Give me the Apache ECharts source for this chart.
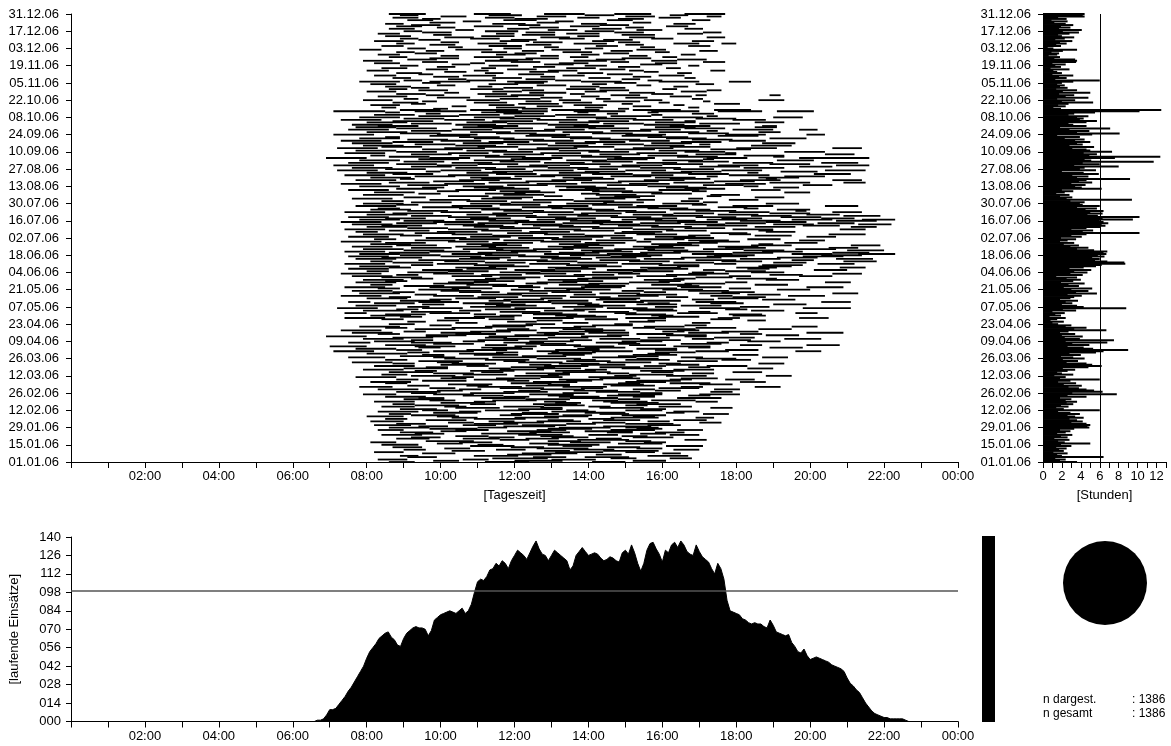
<!DOCTYPE html>
<html><head><meta charset="utf-8">
<script src="https://cdn.jsdelivr.net/npm/echarts@6/dist/echarts.min.js"></script>
<style>html,body{margin:0;padding:0;background:#fff}#c{width:1171px;height:746px}</style>
</head><body><div id="c"></div>
<script>
// ---------------- data ----------------
const dateTickLabels = ['01.01.06','15.01.06','29.01.06','12.02.06','26.02.06','12.03.06','26.03.06','09.04.06','23.04.06','07.05.06','21.05.06','04.06.06','18.06.06','02.07.06','16.07.06','30.07.06','13.08.06','27.08.06','10.09.06','24.09.06','08.10.06','22.10.06','05.11.06','19.11.06','03.12.06','17.12.06','31.12.06'];
const monthLengths = [31,28,31,30,31,30,31,31,30,31,30,31];

// each entry = one day, "start-end" in hours of day
const segJan = ["8.6-9.3 11.2-12.4 14.1-15.0","9.8-10.5 12.0-13.3 15.2-16.1","8.3-9.1 10.6-11.3 13.0-14.2","11.4-12.9 14.6-15.3 16.2-16.8","9.1-9.9 12.5-13.4 13.9-15.1","8.9-9.4 10.9-12.1 15.6-16.7","11.8-13.0 14.2-14.9","9.5-10.4 12.2-13.7 16.0-16.5","8.2-9.0 13.1-14.4 15.0-15.8","10.3-11.2 12.8-13.5 14.4-15.9","9.0-9.6 11.5-12.3 13.6-14.7 16.3-17.0","10.1-10.8 12.6-14.0 15.3-16.0","8.7-9.5 11.9-12.8 14.5-15.4","10.8-12.0 13.3-14.1 16.1-17.1","8.4-9.4 11.0-11.7 12.9-14.3","9.9-10.6 12.4-13.2 14.8-16.0","8.1-8.8 10.5-11.4 13.5-14.6 15.5-16.1","9.6-10.9 12.9-13.8 15.0-15.7","11.6-12.4 13.7-15.1 16.6-17.2","8.8-9.7 10.6-11.6 12.3-13.2 14.2-14.9","9.2-10.0 11.3-12.0 13.0-14.0 15.2-16.3","10.4-11.3 12.7-13.6 14.9-15.6","8.4-9.5 12.1-13.3 14.0-14.8 16.2-17.0","9.3-10.1 11.1-12.6 15.4-16.1","8.9-9.8 12.4-13.5 14.5-15.2 15.8-16.6","10.0-10.7 11.8-13.0 13.9-15.2","8.3-9.0 10.4-11.3 12.6-13.4 14.6-15.8 16.4-17.1","9.7-11.0 12.9-14.1 15.3-16.0","8.6-9.7 11.0-11.8 13.2-14.6 15.0-15.9","9.4-10.2 11.7-13.1 14.4-15.7","8.2-9.2 10.6-11.5 12.2-13.4 15.6-16.5"];
const segFeb = ["8.8-9.6 10.9-12.1 13.4-14.2 15.0-16.3","10.2-10.9 11.7-12.8 14.1-15.0 17.0-17.6","8.1-9.0 11.3-12.0 12.6-13.8 15.6-16.2","9.6-10.7 12.9-13.6 14.4-15.4 16.3-17.2","8.5-9.1 10.9-12.3 14.0-14.7","10.3-11.0 12.0-13.2 14.6-15.9 16.9-17.4","8.0-9.0 9.9-10.5 12.8-14.0 15.2-15.8","9.2-10.4 11.6-12.2 13.3-14.1 14.9-16.1","8.6-9.2 11.9-13.2 14.3-15.1 17.1-17.8","9.8-11.0 12.2-12.9 13.9-15.0 16.1-16.6","8.3-9.4 10.5-11.1 13.0-14.2 16.3-17.0","9.5-10.2 11.2-12.4 13.4-14.0 15.0-16.0","8.9-9.9 12.1-13.3 15.4-16.1","10.4-11.6 12.7-13.3 14.3-15.5 17.3-17.9","8.4-9.3 10.1-10.7 11.7-12.8 14.0-14.6 15.9-16.8","9.3-10.5 12.8-13.9 15.0-15.6","8.7-9.3 10.8-11.5 12.5-13.7 15.3-16.5","10.0-11.2 13.1-13.8 14.6-15.9","8.2-9.3 10.9-11.5 12.8-13.4 14.4-15.6 16.9-17.5","9.7-10.4 11.4-12.6 14.1-14.8 15.7-16.9","9.0-10.1 12.3-13.5 14.8-15.4","9.4-10.1 11.1-12.3 13.5-14.8 16.4-17.6","8.5-9.6 11.7-12.4 13.2-14.3 15.2-15.8","10.6-11.7 12.9-13.6 14.5-15.8 16.7-17.3","7.9-8.8 9.8-10.9 12.4-13.6 14.8-16.0 17.0-18.1","9.2-9.9 10.8-12.0 13.3-14.0 15.4-16.0","8.8-10.0 11.7-12.9 14.2-15.4 17.3-17.9","9.9-10.6 12.1-12.7 13.6-14.8 15.8-16.5"];
const segMar = ["8.3-9.4 10.5-11.1 12.7-13.9 15.2-15.8 17.4-18.1","9.7-10.4 11.6-12.8 13.8-14.4 15.9-17.0","7.8-8.7 11.0-12.2 13.3-14.5 16.5-17.1 18.5-19.2","9.1-9.7 10.7-11.3 12.3-13.5 14.6-15.8","10.2-11.4 12.9-13.5 14.4-15.5 17.0-17.9","8.5-9.1 11.9-13.0 14.8-15.4 16.2-17.3","8.1-9.2 12.5-13.7 15.0-16.1 18.1-18.8","9.5-10.7 11.8-12.4 13.4-14.1 15.3-16.5","8.8-9.4 10.9-12.0 13.2-14.4 16.2-16.8 17.7-18.5","10.0-10.7 11.5-12.7 14.3-15.4 16.5-17.5","7.7-8.8 10.3-10.9 12.7-13.3 14.0-15.2","9.2-10.4 12.0-13.2 14.7-15.3 16.1-17.2 18.8-19.5","8.4-9.1 10.6-11.8 12.9-13.5 15.1-16.3","9.8-10.9 12.3-13.5 14.5-15.1 16.8-17.4","8.6-9.8 11.1-11.7 13.3-14.6 15.7-16.3 17.9-18.7","9.3-9.9 10.8-12.0 13.1-14.2 15.4-16.6","7.9-9.0 11.6-12.8 13.9-14.5 16.3-17.4","9.0-10.2 11.3-11.9 12.6-13.8 14.9-16.0 18.3-19.0","9.6-10.2 11.9-13.1 14.3-15.4 16.7-17.3","8.2-9.3 10.7-11.3 12.8-14.0 15.5-16.1 17.2-18.3","10.0-11.2 12.4-13.0 13.8-15.0 16.1-17.0","8.7-9.3 10.3-11.5 13.2-14.3 15.9-16.5 18.6-19.3","7.6-8.7 9.9-10.5 12.1-13.3 14.5-15.7","9.4-10.6 11.7-12.3 13.4-14.6 16.4-17.5","8.5-9.1 11.2-12.4 13.6-14.2 15.0-16.2 17.6-18.4","10.1-11.3 12.6-13.8 15.3-15.9 16.9-18.0","7.5-8.5 9.8-10.4 11.4-12.6 14.1-15.3 16.5-17.1 18.7-19.4","8.9-10.1 12.2-13.4 14.8-15.9","9.5-10.1 10.9-12.1 13.3-13.9 15.2-16.4 17.9-18.6","8.0-9.1 10.5-11.7 12.9-14.1 15.6-16.2","9.1-9.7 11.5-12.1 13.0-14.2 15.8-16.9"];
const segApr = ["7.1-8.2 9.8-10.9 12.6-13.2 14.1-15.2 16.9-17.8 19.6-20.3","8.8-9.5 10.7-11.8 13.1-14.3 15.8-16.4 17.7-18.6","7.7-8.8 11.4-12.5 13.7-14.3 15.3-16.4","9.4-10.0 11.1-12.2 13.9-15.0 16.7-17.3 18.9-19.8","7.0-8.0 9.3-10.4 12.0-12.6 13.6-14.7 16.3-17.3","8.5-9.6 11.2-11.8 12.7-13.8 15.1-16.1 18.1-18.7 19.9-20.8","9.8-10.9 12.3-13.4 14.8-15.4 16.5-17.6","7.5-8.1 9.2-10.3 11.7-12.8 14.2-15.3 17.2-17.8","8.2-9.3 10.6-11.2 12.4-13.6 14.9-16.0 18.3-19.2","9.2-9.8 11.0-12.1 13.5-14.1 15.4-16.5 17.8-18.4","7.9-9.0 11.7-12.9 14.3-15.4 16.8-17.4 19.3-20.3","8.7-9.8 11.2-11.8 12.9-14.0 15.6-16.2 17.4-18.5","6.9-8.0 9.6-10.2 11.3-12.4 13.8-14.9 16.6-17.2","9.6-10.7 12.0-13.1 14.5-15.1 16.1-17.2 18.8-19.7","8.3-8.9 10.4-11.5 12.8-13.9 15.3-16.3 18.1-18.7","7.6-8.7 10.0-11.1 12.6-13.2 14.0-15.1 16.7-17.8 19.9-20.9","9.0-9.6 10.8-11.9 13.2-14.4 16.0-16.6 17.6-18.6","7.3-8.4 11.5-12.6 13.9-15.0 16.4-17.0","9.3-10.4 11.8-12.4 13.3-14.4 15.8-16.9 18.6-19.5","8.5-9.1 10.3-11.4 12.7-13.8 15.2-15.8 16.9-18.0","7.8-8.9 11.2-12.3 13.6-14.2 15.5-16.6 19.5-20.2","9.7-10.3 11.4-12.5 14.1-15.2 16.6-17.2","8.6-9.3 12.3-13.1 14.7-15.2","10.4-11.0 13.3-14.0 16.8-17.3","9.1-9.6 11.8-12.6 15.1-15.8","9.9-10.5 12.6-13.3 15.6-16.1 18.3-18.8","8.4-9.0 11.3-12.0 13.9-14.8 17.3-17.9","7.4-8.5 10.1-11.2 12.5-13.6 15.0-16.1 17.5-18.1 19.7-20.5","8.9-9.5 10.9-12.0 13.4-14.5 15.9-17.0","8.1-9.2 11.6-12.2 13.1-14.2 15.7-16.3 17.9-18.8"];
const segMay = ["8.5-9.6 10.9-11.5 12.5-13.7 15.0-16.1 17.8-18.7","7.4-8.0 9.7-10.8 12.2-13.3 14.7-15.3 16.4-17.5 19.6-20.2","9.2-10.3 11.6-12.7 14.0-15.1 16.7-17.3","7.9-9.0 10.5-11.1 12.8-13.9 15.3-16.4 18.4-19.3","8.8-9.4 11.2-12.3 13.6-14.2 15.2-16.3 17.7-18.3","7.2-8.3 9.5-10.6 12.0-13.1 14.5-15.6 17.0-18.1 19.8-21.1","9.1-9.7 10.8-11.9 13.3-14.4 15.8-16.4 18.1-18.9","7.7-8.8 11.5-12.6 13.9-15.0 16.5-17.6","9.5-10.1 11.2-12.3 13.7-14.3 15.3-16.4 19.0-19.9","8.2-9.3 10.6-11.7 13.0-14.1 15.6-16.2 17.3-18.2","7.5-8.1 9.4-10.5 11.9-13.0 14.4-15.5 16.9-18.0 20.3-21.1","8.9-10.0 11.3-11.9 12.9-14.0 15.4-16.5","9.7-10.3 11.7-12.8 14.2-15.3 16.8-17.4 18.7-19.6","8.0-9.1 10.4-11.5 12.7-13.3 14.3-15.4 17.5-18.6","8.6-9.2 11.0-12.1 13.5-14.6 16.1-16.7 17.9-18.8","7.3-8.4 9.8-10.9 12.2-13.4 14.8-15.9 17.3-17.9 19.4-20.4","9.3-9.9 11.1-12.2 13.6-14.2 15.3-16.4 18.3-19.2","7.8-8.9 11.8-12.9 14.3-15.4 17.0-18.1 20.6-21.3","8.7-9.3 10.5-11.6 13.0-14.1 15.5-16.1 17.6-18.5","7.6-8.7 10.0-11.1 12.4-13.5 14.9-15.5 16.7-17.8","9.4-10.5 11.9-12.5 13.4-14.6 16.0-17.1 19.1-20.0","8.3-8.9 10.3-11.4 12.8-13.9 15.3-16.4 17.8-18.4","7.4-8.5 9.7-10.8 12.1-12.7 13.8-14.9 16.5-17.6 19.9-20.9","9.0-10.1 11.4-12.5 13.9-15.0 16.4-17.0","8.1-8.7 10.7-11.8 13.2-14.3 15.7-16.8 18.5-19.4","9.8-10.9 12.3-12.9 14.0-15.1 16.6-17.7","7.7-8.8 10.2-11.3 12.6-13.7 15.1-16.2 17.7-18.3 20.4-21.1","8.5-9.1 10.9-12.0 13.3-14.4 15.9-16.5","7.9-9.0 10.4-11.5 12.9-14.0 15.5-16.6 18.8-19.7","9.2-9.8 11.2-12.3 13.7-14.8 16.3-16.9 18.0-19.1","8.4-9.5 11.6-12.7 14.1-15.2 16.9-17.9"];
const segJun = ["7.6-8.7 10.3-11.4 12.8-13.9 15.3-16.4 17.8-18.4 19.7-20.6","8.8-9.4 11.1-12.2 13.6-14.7 16.1-17.2 18.9-19.8","7.3-8.4 9.8-10.9 12.3-13.4 14.8-15.4 16.7-17.8 20.6-21.4","9.1-10.2 11.6-12.7 14.1-15.2 16.8-17.4 18.4-19.3","8.0-8.6 10.2-11.3 12.7-13.8 15.2-16.3 17.7-18.8","9.5-10.6 12.0-13.1 14.5-15.6 17.1-17.7 20.1-21.0","7.5-8.6 10.7-11.8 13.1-14.2 15.6-16.7 18.3-18.9","8.6-9.2 10.4-11.5 12.9-14.0 15.4-16.5 18.0-19.1 20.8-21.5","7.8-8.9 11.3-12.4 13.8-14.9 16.4-17.0 18.6-19.5","9.2-9.8 10.9-12.0 13.4-14.5 15.9-17.0 18.7-19.8","7.4-8.5 9.9-11.0 12.4-13.5 14.9-16.0 17.4-18.0 20.2-21.2","8.7-9.8 11.2-12.3 13.7-14.8 16.3-17.4 19.0-19.9","8.1-8.7 10.1-11.2 12.6-13.7 15.1-16.2 17.6-18.7 20.9-21.8","9.4-10.5 11.8-12.9 14.3-15.4 16.9-18.0 19.5-20.1","7.7-8.8 10.5-11.6 13.0-14.1 15.5-16.6 18.1-19.2 20.7-21.7","8.4-9.5 10.8-11.9 12.7-13.8 14.2-15.3 16.5-17.6 19.1-20.2","7.5-8.6 10.0-11.1 12.1-13.2 14.6-15.7 17.2-18.3 19.8-20.9","8.9-10.0 11.2-12.3 13.5-14.6 14.9-16.0 17.4-18.5 20.3-21.4","7.8-8.9 10.3-11.4 12.8-13.9 14.5-15.6 16.8-17.9 19.5-20.6 21.3-22.3","8.6-9.7 11.0-12.1 13.2-14.3 15.4-16.5 17.9-19.0 20.6-21.6","7.4-8.5 9.7-10.8 11.9-13.0 14.1-15.2 16.3-17.4 18.7-19.8","9.0-10.1 11.5-12.6 13.8-14.9 15.6-16.7 18.2-19.3 21.0-22.0","7.9-9.0 10.6-11.7 12.5-13.6 14.7-15.8 17.1-18.2 19.6-20.7","9.2-10.3 11.3-12.4 13.3-14.4 15.5-16.6 17.7-18.8 20.5-21.3","7.6-8.7 10.4-11.5 12.9-14.0 15.2-16.3 17.5-18.6","8.8-9.9 11.1-12.2 13.6-14.7 15.9-17.0 18.4-19.5 21.1-21.9","8.1-9.2 10.7-11.8 13.2-14.3 15.7-16.8 18.6-19.0","8.5-9.6 11.4-12.5 13.9-15.0 16.4-17.5 19.3-20.2","7.3-8.4 10.2-11.3 12.7-13.8 15.3-15.7 17.0-18.1","9.3-10.4 11.7-12.8 14.2-15.3 16.7-17.8 19.7-20.4"];
const segJul = ["8.2-8.8 10.5-11.6 13.0-14.1 15.5-16.6 18.3-19.2","9.6-10.7 12.1-13.2 14.6-15.2 16.3-17.4","7.5-8.6 10.8-11.9 13.3-14.4 15.8-16.9 19.9-20.7","8.9-9.5 11.4-12.5 13.9-15.0 16.7-17.3 18.5-19.5","7.9-9.0 10.3-11.4 12.8-13.9 15.3-16.4 17.8-18.4 20.5-21.5","9.3-10.4 11.8-12.9 14.7-15.8 17.3-18.3","7.7-8.3 9.9-11.0 12.4-13.5 14.9-16.0 18.8-19.6","8.6-9.7 11.1-12.2 13.6-14.7 16.1-17.2 18.6-19.0","7.4-8.5 10.2-11.3 12.7-13.8 15.2-16.3 17.9-19.0 20.8-21.5","9.1-10.2 11.6-12.7 14.1-15.2 16.6-17.7","8.0-9.1 10.9-12.0 13.2-14.3 15.7-16.8 18.5-19.6 21.1-21.8","8.4-9.5 10.6-11.7 12.5-13.6 14.8-15.9 17.2-18.3 19.8-20.8","7.6-8.7 10.1-11.2 12.2-13.3 14.3-15.4 16.6-17.7 19.0-20.1 21.3-22.2","8.8-9.9 11.0-12.1 13.3-14.4 15.4-16.5 17.7-18.8 20.2-21.2","7.3-8.4 9.8-10.9 12.0-13.1 14.1-15.2 16.4-17.5 18.8-19.9","9.0-10.1 11.3-12.4 13.5-14.6 15.8-16.9 18.1-19.2 20.7-21.8","7.8-8.9 10.4-11.5 12.6-13.7 14.9-16.0 17.2-18.3 19.5-20.6 21.4-22.3","8.5-9.6 10.8-11.9 13.1-14.2 15.3-16.4 17.6-18.7 20.3-21.2","7.5-8.6 10.2-11.3 12.3-13.4 14.6-15.7 16.9-18.0 19.2-20.3","9.2-10.3 11.5-12.6 13.7-14.8 16.0-17.1 18.4-19.5 20.9-21.9","8.0-9.1 10.7-11.8 12.9-14.0 15.2-16.3 17.5-18.6 19.9-20.8","8.7-9.8 11.4-12.5 13.8-14.9 16.3-17.4 18.9-20.0","7.4-8.5 10.0-11.1 12.5-13.6 15.0-16.1 17.8-18.9 20.6-21.4","9.1-10.2 11.7-12.8 14.2-15.3 16.9-18.0 19.6-19.9","8.1-9.2 11.1-12.2 13.6-14.7 16.2-17.3 19.1-20.0","8.3-8.9 10.5-11.6 13.0-14.1 15.6-16.7 18.2-18.6","9.5-10.6 12.2-13.3 14.8-15.9 17.5-18.3","7.7-8.8 10.3-11.4 12.9-14.0 15.3-16.4 17.9-19.0 20.4-21.3","8.8-9.4 11.6-12.7 14.1-15.2 16.8-17.2","7.9-9.0 10.8-11.9 13.4-14.5 16.0-17.1 18.8-19.7","9.2-10.3 11.9-13.0 14.4-15.5 17.1-17.5"];
const segAug = ["8.4-9.0 10.7-11.8 13.6-14.7 16.5-17.0","9.7-10.8 12.5-13.6 15.3-15.8 17.8-18.6","7.6-8.7 11.1-12.2 13.9-15.0 16.7-17.1","9.0-9.6 11.4-12.5 14.3-15.4 18.5-19.3","10.2-11.3 12.8-13.3 14.7-15.8 17.2-17.6","7.9-9.0 11.7-12.8 14.2-15.3 17.3-18.1","9.4-10.0 11.2-12.3 13.8-14.3 15.7-16.8","8.2-9.3 12.0-13.1 14.9-16.0 19.3-20.0","9.9-10.5 11.6-12.7 14.1-15.2 16.8-17.2","7.5-8.6 10.4-11.5 13.2-14.3 15.9-17.0 18.4-19.2","8.8-9.9 11.3-12.4 13.9-15.0 16.6-17.7","9.5-10.1 10.9-12.0 13.4-14.5 16.1-17.2 19.0-19.7","7.8-8.9 10.6-11.7 13.1-14.2 15.6-16.7 18.2-18.6","9.1-10.2 11.8-12.9 14.5-15.6 17.1-18.2 19.8-20.6","7.3-8.4 10.1-11.2 12.6-13.7 15.1-16.2 17.7-18.8","8.6-9.7 11.3-12.4 13.8-14.9 16.3-17.4 18.9-20.0 20.9-21.5","9.8-10.9 12.3-13.4 14.8-15.9 17.4-18.5","7.7-8.8 10.5-11.6 13.0-14.1 15.5-16.6 18.1-19.2 20.6-21.4","8.9-9.3 11.1-12.2 13.6-14.7 16.2-17.3 18.8-19.1","8.1-9.2 10.8-11.9 13.3-14.4 15.8-16.9 18.6-19.7","9.3-10.4 12.0-13.1 14.6-15.7 17.2-17.5 19.3-20.4","7.4-8.5 10.2-11.3 12.7-13.8 15.2-16.3 17.8-18.9","8.7-9.8 11.5-12.6 14.1-15.2 16.7-17.8 20.1-21.1","8.0-9.1 10.7-11.8 13.2-14.3 15.7-16.8 18.3-18.6","9.6-10.0 11.4-12.5 13.9-15.0 16.5-17.6 19.2-20.2","7.2-8.3 10.0-11.1 12.5-13.6 15.0-16.1 17.6-18.7 20.4-21.5","8.5-9.6 11.2-12.3 13.7-14.8 16.3-17.4","7.6-8.7 10.4-11.5 12.9-14.0 15.4-16.5 18.2-19.3","9.2-10.3 11.8-12.9 14.3-15.4 17.0-18.1 19.7-20.6","7.1-8.2 9.9-11.0 12.4-13.5 14.9-16.0 17.5-18.6 20.7-21.6","8.8-9.9 11.0-12.1 13.5-14.6 16.0-17.1 18.9-20.0"];
const segSep = ["7.5-8.6 10.3-11.4 12.8-13.9 15.3-16.4 17.9-19.0 20.3-21.3","9.0-10.1 11.6-12.7 14.1-15.2 16.7-17.8","7.8-8.9 10.9-12.0 13.4-14.5 16.0-17.1 19.1-20.1","9.4-10.5 11.9-13.0 14.5-15.6 17.1-17.4","6.9-8.0 9.7-10.8 12.2-13.3 14.7-15.8 17.2-18.3 19.7-20.8 20.5-21.6","8.6-9.7 11.2-12.3 13.8-14.9 16.4-17.5 19.0-19.3","8.1-8.5 10.5-11.6 13.0-14.1 15.6-16.7 18.2-19.3","9.2-10.3 11.7-12.8 14.3-15.4 16.9-18.0 20.4-21.2","7.4-8.5 10.2-11.3 12.7-13.8 15.3-16.4 17.7-18.0","8.8-9.9 11.4-12.5 14.0-15.1 16.6-17.7 19.3-20.4","7.7-8.8 10.7-11.8 13.2-14.3 15.9-17.0","9.5-10.6 12.1-13.2 14.7-15.8 17.3-18.4","7.2-8.3 10.1-11.2 12.6-13.7 15.2-16.3 18.0-19.1 20.6-21.4","8.4-9.5 11.0-12.1 13.6-14.7 16.2-17.3","7.9-9.0 10.4-11.5 12.9-14.0 15.5-16.6 18.4-19.5","9.3-10.4 11.8-12.9 14.4-15.5 17.0-17.3","7.6-8.7 10.6-11.7 13.1-14.2 15.7-16.8 18.7-19.6","8.7-9.8 11.3-12.4 13.9-15.0 16.5-17.6","7.3-8.4 10.0-11.1 12.5-13.6 15.1-16.2 17.8-18.8","9.1-10.2 11.7-12.8 14.3-15.4 16.8-17.9","7.8-8.9 10.9-12.0 13.5-14.6 16.1-17.2 18.9-19.9","8.5-8.9 10.5-11.6 13.0-14.1 15.6-16.7","9.7-10.8 12.3-13.4 14.9-16.0 17.5-18.6","7.1-8.2 9.9-11.0 12.4-13.5 15.0-16.1 17.7-18.8 19.9-20.4","8.9-10.0 11.5-12.6 14.1-15.2 16.7-17.8","8.0-9.1 10.8-11.9 13.3-14.4 15.9-17.0 18.6-19.2","9.2-10.3 12.0-13.1 14.6-15.7 17.2-17.5","7.5-8.6 10.3-11.4 12.8-13.9 15.4-16.5 17.9-19.0 19.7-20.2","8.8-9.9 11.4-12.5 14.0-15.1 16.6-17.7","7.7-8.8 10.6-11.7 13.1-14.2 15.8-16.9 18.5-19.1"];
const segOct = ["8.3-9.4 11.0-12.1 13.6-14.7 16.2-17.3 18.7-19.1","7.6-8.7 10.4-11.5 12.9-14.0 15.5-16.6","9.2-10.3 11.8-12.9 14.4-15.5 17.0-18.1","8.0-9.1 10.7-11.8 13.2-14.3 15.8-16.9 18.5-19.3","8.7-9.8 11.4-12.5 14.0-15.1 16.6-16.9","7.3-8.4 10.1-11.2 12.6-13.7 15.2-16.3 17.9-18.8","9.0-10.1 11.6-12.7 14.2-15.3 16.9-18.0","7.8-8.9 10.9-12.0 13.4-14.5 16.0-17.1 19.0-19.8","9.4-10.5 12.0-13.1 14.6-15.7 17.2-17.5","8.2-9.3 10.5-11.6 13.1-14.2 15.7-16.0","9.6-10.0 11.7-12.8 14.5-14.8 16.8-17.4","8.5-8.9 11.1-12.2 13.7-14.0 15.6-15.9","7.1-8.5 9.3-10.7 11.5-12.9 13.6-15.0 15.7-17.0 17.5-18.7 19.1-20.1","8.9-10.0 10.8-12.1 13.0-14.3 15.2-16.5 17.4-18.4","9.8-10.2 12.2-12.9 14.8-15.1","8.4-8.8 11.5-12.3 13.9-14.4 16.7-17.0","10.3-10.7 12.6-13.3 15.2-15.7","8.1-8.9 11.3-12.0 13.6-14.5 16.3-16.6","9.2-9.6 12.1-13.2 14.9-15.2 17.4-18.1","8.7-9.4 10.9-11.8 13.3-14.1 15.9-16.2","9.5-9.9 12.3-13.0 14.4-15.4 17.1-17.3","7.9-8.7 10.7-11.6 13.2-13.8 15.5-16.0 18.6-19.3","9.0-9.4 11.6-12.7 14.2-14.6 16.8-17.1","9.9-10.8 12.7-13.3 15.0-15.6","8.3-9.1 11.2-12.1 13.8-14.3 16.2-16.8","9.6-10.1 11.9-12.8 14.6-15.4 16.9-17.2 18.9-19.2","8.8-9.6 11.0-11.8 13.5-13.9 15.7-16.3","10.1-10.5 12.4-13.4 15.1-15.8","8.0-8.8 11.4-12.2 13.9-14.5 16.5-17.2","9.4-10.2 12.2-12.8 14.3-15.1 17.2-17.6","8.6-9.1 10.8-11.7 13.4-14.2 16.0-16.4"];
const segNov = ["9.2-9.7 11.7-12.5 14.3-15.0","8.5-9.2 11.0-11.4 13.5-14.3 16.3-16.7","9.9-10.4 12.6-13.4 15.3-15.7","8.1-8.8 11.3-12.1 14.1-14.5 16.9-17.4","9.5-10.0 12.0-12.8 14.7-15.3","7.8-8.9 9.7-10.8 11.8-12.9 13.8-14.9 15.9-17.0 17.8-18.4","9.0-9.5 10.7-11.5 13.1-13.8 15.6-16.0","10.2-10.7 12.3-13.1 14.9-15.4","8.7-9.2 11.4-12.2 14.0-14.6 16.6-16.9","9.8-10.5 12.7-13.1 15.2-15.7","8.2-8.8 10.6-11.5 13.3-13.9 15.9-16.6","9.4-9.8 12.1-12.8 14.5-15.2","8.8-9.5 11.2-11.7 13.7-14.4 16.4-16.8","10.1-10.7 12.4-13.2 15.5-15.9","8.0-8.6 10.9-11.3 12.9-13.7 15.1-15.5 17.3-17.7","9.6-10.2 11.8-12.6 14.3-15.0","8.4-9.1 11.1-11.5 13.4-14.2 16.1-16.5","9.9-10.4 12.5-13.1 14.8-15.4","8.9-9.4 11.3-12.1 13.9-14.5 16.7-17.0","10.3-10.8 12.8-13.6 15.4-16.0","8.2-8.9 10.8-11.2 13.2-14.0 15.8-16.4","9.5-10.2 11.9-12.7 14.6-15.1 17.1-17.7","7.9-8.7 11.2-12.1 13.6-14.5 15.7-16.4","9.1-9.9 11.6-12.5 14.2-15.0 16.4-17.2","9.7-10.5 12.3-13.2 14.9-15.7","8.6-9.1 10.9-11.7 13.5-14.0 16.0-16.4","10.0-10.5 12.7-13.2 15.1-15.6","8.3-8.9 11.5-12.3 13.8-14.3 16.5-16.9","9.3-9.9 12.0-12.6 14.4-15.1","8.8-9.3 11.1-11.8 13.3-14.1 15.8-16.2"];
const segDec = ["9.6-10.1 12.2-12.8 14.6-15.2 17.0-17.5","7.8-8.4 10.4-11.4 13.0-13.8 15.3-16.1","9.1-9.6 11.7-12.2 13.9-14.4","10.2-10.6 12.8-13.2 15.4-15.8","8.4-9.0 11.3-12.2 14.2-14.8 16.7-17.3","9.7-10.4 12.3-13.0 15.0-15.5","8.8-9.3 11.0-11.8 13.6-14.5 16.3-17.0 17.6-18.0","10.0-10.5 12.5-13.3 14.8-15.4","8.2-9.0 11.6-12.4 14.1-14.7 16.8-17.4","9.4-10.0 11.9-12.6 14.4-15.2","8.9-9.4 10.8-11.6 13.2-13.9 15.7-16.3","10.1-10.9 12.7-13.5 15.1-15.8 17.2-17.7","8.5-9.2 11.1-12.0 13.7-14.3","9.8-10.3 12.2-13.1 14.9-15.8","8.3-8.9 11.5-12.0 13.4-14.3 16.4-17.1","9.5-10.3 12.3-13.1 14.7-15.5 17.1-17.6","9.0-9.5 11.2-12.1 13.9-14.7","10.4-10.9 12.9-13.7 15.3-16.0","8.6-9.3 11.8-12.4 14.1-14.9 16.6-17.1","9.9-10.4 12.4-13.2 15.0-15.5","8.8-9.5 10.9-11.7 13.5-14.3 16.1-16.7","9.2-10.0 12.1-12.7 14.3-15.1","8.5-9.0 11.4-12.3 13.8-14.5 16.3-16.9","9.7-10.4 12.6-13.2 15.2-15.7","10.6-11.1 13.1-13.6","9.1-9.8 11.7-12.6 14.5-15.2 16.8-17.3","9.5-10.0 12.0-12.9 14.8-15.5","8.7-9.4 11.2-12.0 13.7-14.3 15.9-16.5","10.0-10.7 12.6-13.4 15.0-15.8 17.2-17.6","8.9-9.4 11.3-12.2 13.9-14.7 16.2-16.7","8.6-9.6 10.9-11.9 12.8-13.9 14.7-15.7 16.6-17.7"];

// hours of operation per day (right panel), 01.01 .. 31.12
const dailyHours = [
3.6,1.8,2.4,1.3,6.4,2.0,1.5,2.6,1.1,2.2, 1.7,2.5,1.4,3.0,1.9,5.0,2.3,1.6,2.8,1.2,
2.6,1.9,3.1,1.5,2.4,2.9,1.8,3.3,4.9,4.7, 5.0,4.6,3.0,4.2,3.6,2.8,4.3,3.4,2.6,3.9,
2.9,1.6,6.0,2.2,1.4,2.7,1.9,3.2,2.5,3.6, 2.4,3.0,1.8,4.6,2.6,7.8,3.1,6.3,5.4,4.6,
3.8,2.7,4.1,2.2,3.5,1.6,2.9,6.0,1.8,2.4, 1.2,3.2,2.0,1.5,2.6,3.4,2.1,4.8,6.2,5.2,
4.6,2.5,3.7,2.1,4.4,3.2,1.9,4.0,2.8,5.6, 6.4,9.0,5.3,4.3,2.6,4.9,3.1,6.8,2.4,7.5,
3.9,2.3,4.2,2.0,3.4,1.8,2.7,6.7,3.3,4.6, 2.4,3.0,1.6,1.0,2.2,0.8,1.5,2.4,0.7,1.9,
1.3,2.3,1.0,3.5,2.1,8.8,4.3,3.6,2.0,3.1, 2.4,3.7,1.8,2.9,3.3,4.1,2.6,5.7,3.5,4.8,
3.0,5.2,2.2,3.8,2.7,4.4,1.9,3.2,4.0,2.5, 3.6,1.4,4.2,2.9,4.7,3.3,5.1,2.8,4.3,5.6,
6.2,8.7,8.6,6.8,5.5,6.0,5.2,6.5,5.8,6.7, 6.4,6.8,5.4,3.6,4.8,2.9,3.8,2.2,3.3,1.8,
2.6,3.5,1.9,4.1,3.0,4.6,10.2,4.2,5.3,3.0, 4.6,6.1,6.6,6.2,6.9,6.4,6.0,9.5,6.3,10.2,
5.8,4.7,6.3,5.0,6.4,4.5,5.7,3.6,6.0,4.2, 3.9,4.4,2.9,9.4,2.5,3.1,1.8,2.8,1.4,2.3,
3.2,2.0,6.2,4.1,3.4,4.5,3.0,5.2,3.8,4.6, 9.2,3.6,4.8,3.1,5.9,4.3,2.0,5.6,3.9,4.4,
8.0,3.3,6.0,4.2,11.7,5.1,4.4,7.6,12.4,4.9, 5.7,4.3,7.3,5.0,4.6,3.1,5.4,2.8,4.2,3.6,
5.0,3.4,4.4,2.3,3.9,1.5,5.2,8.1,3.6,4.9, 2.8,7.1,1.8,4.6,3.2,2.7,4.6,5.7,3.9,4.3,
3.6,4.8,2.7,3.3,5.5,10.2,12.5,1.9,1.1,2.4, 1.6,2.7,5.3,2.0,3.4,1.5,4.8,2.4,3.3,1.7,
5.0,2.1,3.6,1.4,2.6,1.8,2.3,1.5,2.0,3.2, 6.0,1.3,2.5,1.7,3.2,1.0,2.0,1.5,1.1,2.8,
0.8,1.9,1.3,2.4,1.0,3.5,3.6,3.4,1.2,1.8, 0.6,1.5,1.7,0.9,2.1,3.6,1.1,0.5,1.9,1.4,
2.5,1.8,3.1,1.3,2.3,3.3,2.0,1.6,2.8,3.8, 2.1,4.1,1.7,2.9,1.9,3.2,2.4,1.2,2.6,0.9,
2.5,1.6,4.4,4.2,4.4];

// running operations by time of day (bottom panel), every 5 minutes from 06:30
const profileStartHour = 6.5;
const profileStepMinutes = 5;
const profileCounts = [
0,0,1,1,2,5,9,9,10,13,16,19,23,26,30,34,38,42,
48,53,56,59,63,65,67,68,64,62,58,57,
63,67,69,71,72,71,71,70,65,69,77,79,
81,82,83,84,83,82,84,86,82,84,89,98,
106,108,107,110,115,116,120,118,122,120,116,122,
126,130,128,126,123,128,133,137,131,127,126,122,
126,130,128,126,124,122,115,118,126,129,132,129,
126,127,128,127,124,122,123,125,124,122,121,128,
130,127,134,128,120,114,120,130,135,136,131,127,
121,130,128,134,136,132,137,134,129,127,126,134,
129,125,123,121,116,112,120,116,108,92,84,83,
82,81,78,77,75,74,75,74,74,72,71,77,
73,68,67,66,65,66,60,57,53,52,55,50,
47,48,49,48,47,46,45,43,42,41,40,38,
33,29,27,24,22,18,14,11,8,6,5,4,
3,3,2,2,2,2,2,1,0,0];
const runningRefLine = 99;
const dailyHoursRefLine = 6;
const nShown = 1386, nTotal = 1386;

// ---------------- build ----------------
const months = [segJan,segFeb,segMar,segApr,segMay,segJun,segJul,segAug,segSep,segOct,segNov,segDec];
const segments = [];
let offset = 0;
months.forEach((m, mi) => {
  m.forEach((dayStr, di) => {
    const idx = offset + di;
    dayStr.trim().split(/\s+/).forEach(p => {
      if (!p) return;
      const [s, e] = p.split('-').map(Number);
      segments.push([idx, s, e]);
    });
  });
  offset += monthLengths[mi];
});
const dailyData = dailyHours.map((v, i) => [i, v]);
const profileData = profileCounts.map((v, i) => [profileStartHour + i * profileStepMinutes / 60, v]);

const FONT = 'Liberation Sans, Arial, Helvetica, sans-serif';
const txt = { fontFamily: FONT, fontSize: 13, color: '#000' };
const lineC = '#000';
const hourFmt = v => (v > 0 && v % 2 === 0) ? String(v % 24).padStart(2, '0') + ':00' : '';
const dateFmt = v => dateTickLabels[Math.round(v / 14)] || '';

function hourAxis(gi, extra) {
  return Object.assign({
    gridIndex: gi, type: 'value', min: 0, max: 24, interval: 1,
    axisLine: { show: true, lineStyle: { color: lineC, width: 1 } },
    axisTick: { show: true, length: 6, lineStyle: { color: lineC } },
    axisLabel: Object.assign({}, txt, { margin: 8, formatter: hourFmt, showMinLabel: true, showMaxLabel: true }),
    splitLine: { show: false }
  }, extra || {});
}
function dateAxis(gi) {
  return {
    gridIndex: gi, type: 'value', min: 0, max: 364, interval: 14,
    axisLine: { show: true, lineStyle: { color: lineC, width: 1 } },
    axisTick: { show: true, length: 5, lineStyle: { color: lineC } },
    axisLabel: Object.assign({}, txt, { margin: 12, formatter: dateFmt, showMinLabel: true, showMaxLabel: true }),
    splitLine: { show: false }
  };
}

const chart = echarts.init(document.getElementById('c'), null, { renderer: 'canvas' });
chart.setOption({
  animation: false,
  backgroundColor: '#fff',
  grid: [
    { left: 71, top: 14, width: 887, height: 448 },
    { left: 1043, top: 14, width: 123, height: 448 },
    { left: 71, top: 537, width: 887, height: 184.5 },
    { left: 982, top: 536, width: 13, height: 186 }
  ],
  xAxis: [
    hourAxis(0, { name: '[Tageszeit]', nameLocation: 'middle', nameGap: 27, nameTextStyle: txt }),
    {
      gridIndex: 1, type: 'value', min: 0, max: 13, interval: 1,
      axisLine: { show: true, lineStyle: { color: lineC } },
      axisTick: { show: true, length: 6, lineStyle: { color: lineC } },
      axisLabel: Object.assign({}, txt, { margin: 8, formatter: v => v % 2 === 0 ? String(v) : '', showMinLabel: true }),
      splitLine: { show: false },
      name: '[Stunden]', nameLocation: 'middle', nameGap: 27, nameTextStyle: txt
    },
    hourAxis(2),
    { gridIndex: 3, type: 'category', data: ['n'], show: false }
  ],
  yAxis: [
    dateAxis(0),
    dateAxis(1),
    {
      gridIndex: 2, type: 'value', min: 0, max: 140, interval: 14,
      axisLine: { show: true, lineStyle: { color: lineC } },
      axisTick: { show: true, length: 5, lineStyle: { color: lineC } },
      axisLabel: Object.assign({}, txt, { margin: 10, formatter: v => String(v).padStart(3, '0'), showMaxLabel: true }),
      splitLine: { show: false },
      name: '[laufende Einsätze]', nameLocation: 'middle', nameGap: 50, nameRotate: 90, nameTextStyle: txt
    },
    { gridIndex: 3, type: 'value', min: 0, max: nTotal, show: false }
  ],
  series: [
    {
      type: 'custom', xAxisIndex: 0, yAxisIndex: 0, silent: true,
      data: segments, encode: { x: [1, 2], y: 0 },
      renderItem: (params, api) => {
        const d = api.value(0), s = api.value(1), e = api.value(2);
        const a = api.coord([s, d]), b = api.coord([e, d]);
        return { type: 'rect', shape: { x: a[0], y: a[1] - 0.9, width: Math.max(1, b[0] - a[0]), height: 1.8 }, style: { fill: '#000' } };
      }
    },
    {
      type: 'custom', xAxisIndex: 1, yAxisIndex: 1, silent: true,
      data: dailyData, encode: { x: 1, y: 0 },
      renderItem: (params, api) => {
        const d = api.value(0), v = api.value(1);
        const a = api.coord([0, d]), b = api.coord([v, d]);
        return { type: 'rect', shape: { x: a[0], y: a[1] - 1, width: b[0] - a[0], height: 2 }, style: { fill: '#000' } };
      }
    },
    {
      type: 'scatter', xAxisIndex: 1, yAxisIndex: 1, data: [], silent: true,
      markLine: { silent: true, symbol: ['none', 'none'], label: { show: false }, animation: false,
        lineStyle: { color: '#000', width: 1, type: 'solid' }, data: [{ xAxis: dailyHoursRefLine }] }
    },
    {
      type: 'line', xAxisIndex: 2, yAxisIndex: 2, data: profileData, silent: true,
      showSymbol: false, symbol: 'none', lineStyle: { color: '#000', width: 1 },
      areaStyle: { color: '#000', opacity: 1 },
      markLine: { silent: true, symbol: ['none', 'none'], label: { show: false }, animation: false,
        lineStyle: { color: '#555', width: 1.6, type: 'solid' }, data: [{ yAxis: runningRefLine }] }
    },
    {
      type: 'bar', xAxisIndex: 3, yAxisIndex: 3, data: [nShown], barWidth: '100%', silent: true,
      itemStyle: { color: '#000' }
    },
    {
      type: 'pie', center: [1105, 583], radius: [0, 42], silent: true,
      label: { show: false }, labelLine: { show: false },
      itemStyle: { color: '#000', borderWidth: 0 },
      data: [{ value: nShown, name: 'n dargest.' }]
    }
  ],
  graphic: [
    { type: 'text', left: 1043, top: 694, style: { text: 'n dargest.', font: '12px ' + FONT, fill: '#000' } },
    { type: 'text', left: 1132, top: 694, style: { text: ': ' + nShown, font: '12px ' + FONT, fill: '#000' } },
    { type: 'text', left: 1043, top: 708, style: { text: 'n gesamt', font: '12px ' + FONT, fill: '#000' } },
    { type: 'text', left: 1132, top: 708, style: { text: ': ' + nTotal, font: '12px ' + FONT, fill: '#000' } }
  ]
});
</script>
</body></html>
